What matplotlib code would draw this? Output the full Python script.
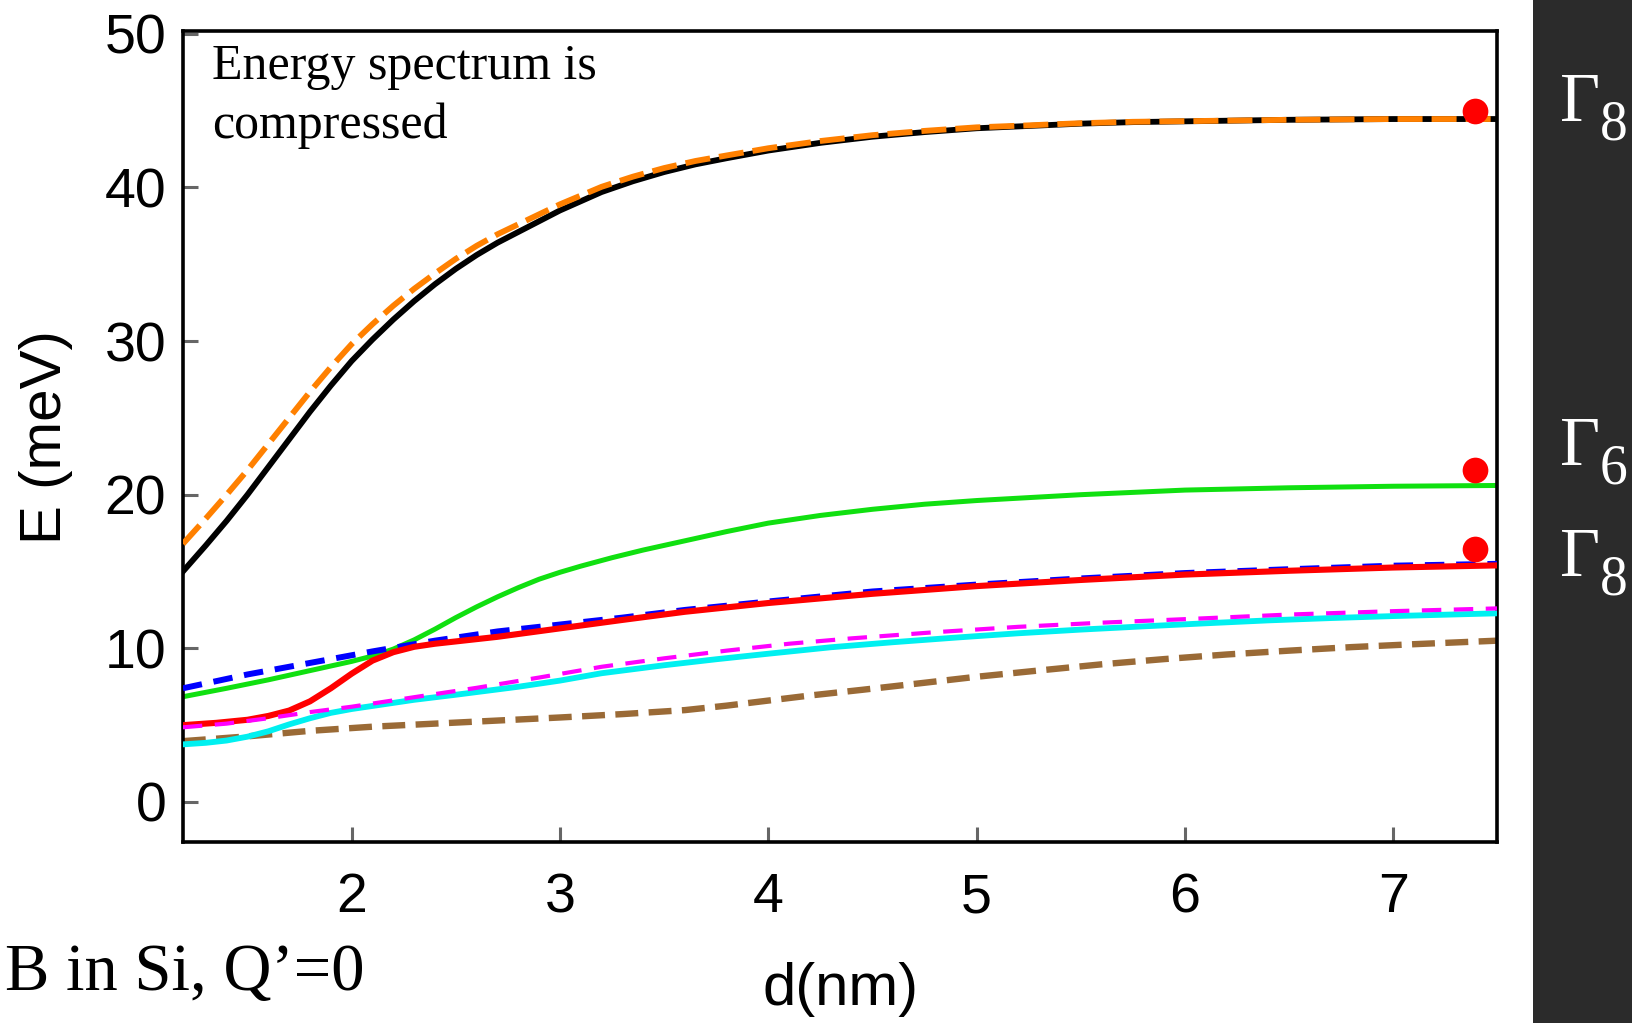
import matplotlib
matplotlib.use("Agg")
import matplotlib.pyplot as plt
from matplotlib.patches import Rectangle

plt.rcParams["font.family"] = ["Liberation Sans", "DejaVu Sans"]
plt.rcParams["lines.scale_dashes"] = False

# Level energies E (meV) against dot size d (nm)
d_black = [1.19, 1.3, 1.4, 1.5, 1.6, 1.7, 1.8, 1.9, 2.0, 2.1, 2.2, 2.3, 2.4, 2.5,
           2.6, 2.7, 2.8, 2.9, 3.0, 3.1, 3.2, 3.35, 3.5, 3.65, 3.8, 4.0, 4.25,
           4.5, 4.75, 5.0, 5.25, 5.5, 5.75, 6.0, 6.5, 7.0, 7.5]
e_black = [15.0, 16.7, 18.3, 20.0, 21.8, 23.6, 25.4, 27.1, 28.7, 30.1, 31.4, 32.6,
           33.7, 34.7, 35.6, 36.4, 37.1, 37.8, 38.5, 39.1, 39.7, 40.4, 41.0, 41.5,
           41.9, 42.4, 42.9, 43.3, 43.6, 43.85, 44.0, 44.15, 44.25, 44.3, 44.4,
           44.45, 44.45]

d_orange = d_black
e_orange = [16.8, 18.45, 20.0, 21.6, 23.3, 25.0, 26.7, 28.3, 29.8, 31.1, 32.3, 33.4,
            34.4, 35.35, 36.2, 36.95, 37.6, 38.25, 38.9, 39.47, 40.04, 40.7, 41.26,
            41.72, 42.08, 42.55, 43.02, 43.4, 43.68, 43.91, 44.04, 44.18, 44.27,
            44.31, 44.4, 44.45, 44.45]

d_green = [1.19, 1.4, 1.6, 1.8, 2.0, 2.1, 2.2, 2.3, 2.4, 2.5, 2.6, 2.7, 2.8, 2.9,
           3.0, 3.1, 3.25, 3.4, 3.6, 3.8, 4.0, 4.25, 4.5, 4.75, 5.0, 5.5, 6.0,
           6.5, 7.0, 7.5]
e_green = [6.85, 7.4, 7.95, 8.55, 9.15, 9.5, 9.95, 10.55, 11.25, 12.0, 12.7, 13.35,
           13.95, 14.5, 14.95, 15.35, 15.9, 16.4, 17.0, 17.6, 18.15, 18.65, 19.05,
           19.38, 19.62, 20.0, 20.3, 20.45, 20.55, 20.6]

d_blue = [1.19, 1.5, 1.8, 2.1, 2.4, 2.7, 3.0, 3.3, 3.6, 4.0, 4.5, 5.0, 5.5, 6.0,
          6.5, 7.0, 7.5]
e_blue = [7.4, 8.3, 9.05, 9.8, 10.5, 11.1, 11.55, 12.0, 12.5, 13.05, 13.7, 14.15,
          14.55, 14.9, 15.15, 15.38, 15.5]

d_red = [1.19, 1.35, 1.5, 1.6, 1.7, 1.8, 1.9, 2.0, 2.1, 2.2, 2.3, 2.4, 2.5, 2.7,
         3.0, 3.3, 3.6, 4.0, 4.5, 5.0, 5.5, 6.0, 6.5, 7.0, 7.5]
e_red = [5.0, 5.15, 5.35, 5.6, 5.95, 6.55, 7.4, 8.35, 9.2, 9.75, 10.1, 10.3, 10.45,
         10.75, 11.3, 11.85, 12.38, 12.95, 13.55, 14.05, 14.45, 14.8, 15.05, 15.26,
         15.4]

d_magenta = [1.19, 1.4, 1.6, 1.8, 2.0, 2.3, 2.6, 2.9, 3.2, 3.5, 3.8, 4.1, 4.4, 4.8,
             5.2, 5.6, 6.0, 6.5, 7.0, 7.5]
e_magenta = [4.86, 5.1, 5.45, 5.85, 6.2, 6.82, 7.43, 8.1, 8.8, 9.35, 9.85, 10.3,
             10.65, 11.05, 11.4, 11.67, 11.9, 12.2, 12.42, 12.6]

d_cyan = [1.19, 1.3, 1.4, 1.5, 1.6, 1.7, 1.8, 1.9, 2.0, 2.15, 2.3, 2.5, 2.8, 3.0,
          3.2, 3.5, 3.75, 4.0, 4.3, 4.6, 4.9, 5.2, 5.5, 5.8, 6.1, 6.4, 6.7, 7.0, 7.5]
e_cyan = [3.75, 3.85, 4.0, 4.25, 4.6, 5.05, 5.45, 5.8, 6.05, 6.35, 6.65, 6.98, 7.5,
          7.9, 8.38, 8.9, 9.29, 9.65, 10.07, 10.4, 10.7, 10.98, 11.22, 11.43, 11.63,
          11.82, 11.97, 12.1, 12.28]

d_brown = [1.19, 1.5, 1.8, 2.1, 2.4, 2.7, 3.0, 3.3, 3.6, 3.8, 4.0, 4.2, 4.45, 4.75,
           5.0, 5.3, 5.6, 5.9, 6.2, 6.5, 6.8, 7.1, 7.5]
e_brown = [3.96, 4.27, 4.63, 4.9, 5.1, 5.3, 5.5, 5.72, 5.98, 6.27, 6.6, 6.93, 7.3,
           7.76, 8.15, 8.56, 8.96, 9.3, 9.6, 9.85, 10.08, 10.27, 10.5]

# Bulk limits of the levels
d_bulk = [7.39, 7.39, 7.39]
e_bulk = [45.0, 21.6, 16.45]
bulk_labels = ["8", "6", "8"]

x_ticks = [2, 3, 4, 5, 6, 7]
y_ticks = [0, 10, 20, 30, 40, 50]

fig = plt.figure(figsize=(16.33, 10.23), dpi=100)
ax = fig.add_axes([0.112, 0.177, 0.805, 0.793])

ax.plot(d_black, e_black, color="black", lw=4.2, zorder=2)
ax.plot(d_orange, e_orange, color="#ff8000", lw=4.2, ls=(0, (18, 6.5)), zorder=3)
ax.plot(d_green, e_green, color="#10e010", lw=3.6, zorder=2)
ax.plot(d_blue, e_blue, color="#0000ff", lw=4.3, ls=(0, (14, 8.5)), zorder=3)
ax.plot(d_red, e_red, color="#ff0000", lw=4.4, zorder=4)
ax.plot(d_brown, e_brown, color="#9a6a36", lw=4.6, ls=(0, (16.5, 7.5)), zorder=2)
ax.plot(d_cyan, e_cyan, color="#00f0f0", lw=4.2, zorder=3)
ax.plot(d_magenta, e_magenta, color="#ff00ff", lw=3.0, ls=(0, (14, 9)), zorder=5)
ax.plot(d_bulk, e_bulk, ls="none", marker="o", ms=18.5, color="#ff0000",
        markeredgewidth=0, zorder=6)

ax.set_xlim(1.19, 7.5)
ax.set_ylim(-2.6, 50.2)
ax.set_xticks(x_ticks)
ax.set_yticks(y_ticks)
ax.tick_params(axis="both", direction="in", length=11, width=2.2, color="#666666",
               labelsize=40, top=False, right=False)
ax.tick_params(axis="x", pad=22)
ax.tick_params(axis="y", pad=12)
for s in ax.spines.values():
    s.set_linewidth(2.6)
    s.set_color("black")

fig.text(0.028, 0.573, "E (meV)", rotation=90, ha="center", va="center", fontsize=42)
fig.text(0.515, 0.033, "d(nm)", ha="center", va="center", fontsize=43)

serif = ["Liberation Serif", "DejaVu Serif"]
ax.text(0.022, 0.984, "Energy spectrum is\ncompressed", transform=ax.transAxes,
        ha="left", va="top", fontsize=36, family=serif, linespacing=1.36)
fig.text(0.003, 0.032, "B in Si, Q\u2019=0", ha="left", va="baseline", fontsize=48,
         family=serif)

# Dark side panel with the bulk level labels
fig.patches.append(Rectangle((0.9387, 0.0), 0.0613, 1.0, transform=fig.transFigure,
                             facecolor="#2b2b2b", edgecolor="none", zorder=0))
label_y = [0.882, 0.545, 0.437]
for yb, sub in zip(label_y, bulk_labels):
    fig.text(0.9555, yb, "\u0393", ha="left", va="baseline", fontsize=50,
             family=serif, color="white")
    fig.text(0.9795, yb - 0.018, sub, ha="left", va="baseline", fontsize=40,
             family=serif, color="white")

fig.savefig("out.png", dpi=100)
